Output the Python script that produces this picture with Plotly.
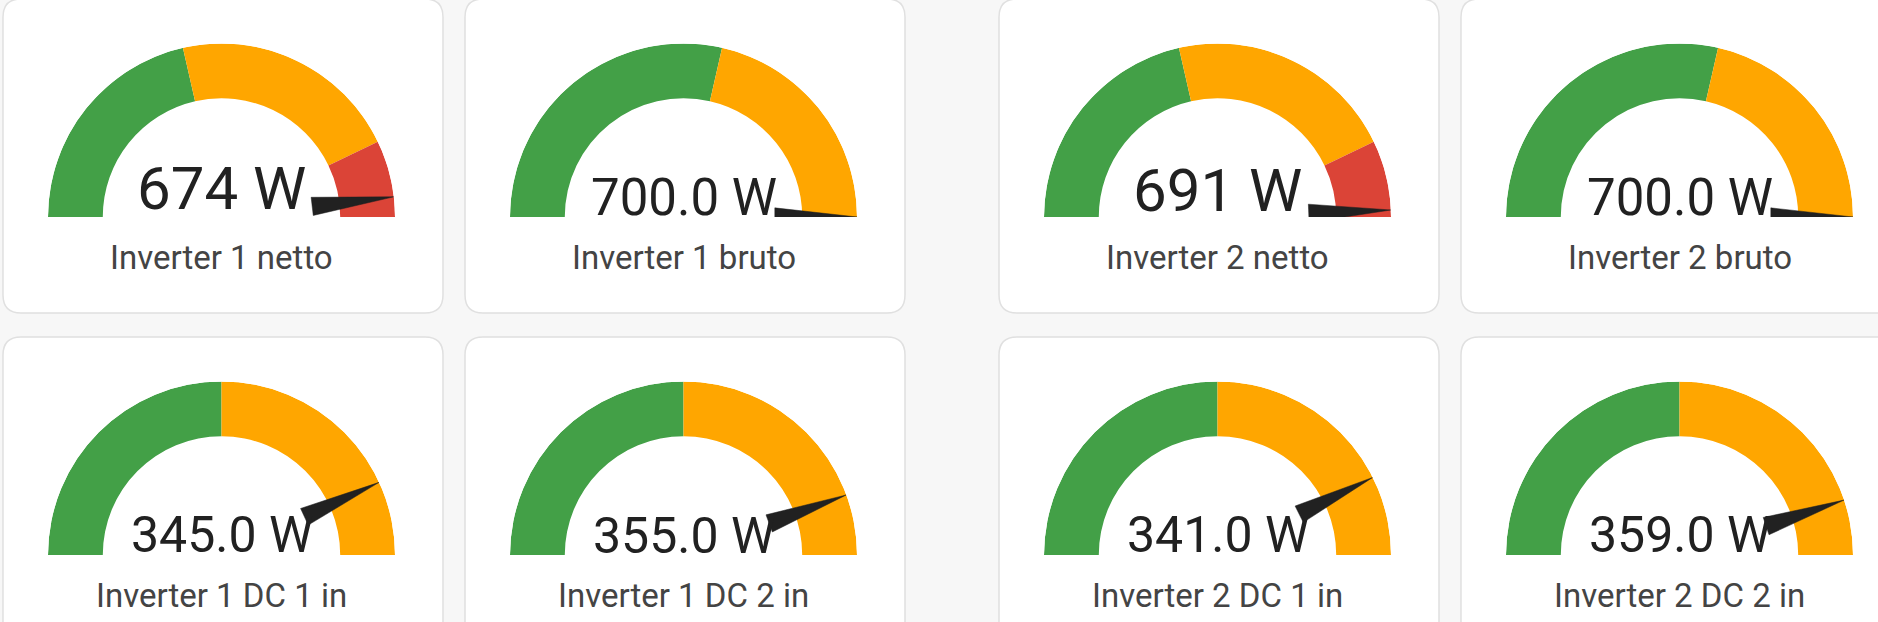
import plotly.graph_objects as go

W, H = 1878, 622

# ---------------- data ----------------
names = ["Inverter 1 netto", "Inverter 1 bruto", "Inverter 2 netto", "Inverter 2 bruto",
         "Inverter 1 DC 1 in", "Inverter 1 DC 2 in", "Inverter 2 DC 1 in", "Inverter 2 DC 2 in"]
values = [674, 700, 691, 700, 345, 355, 341, 359]
value_labels = ["674 W", "700.0 W", "691 W", "700.0 W",
                "345.0 W", "355.0 W", "341.0 W", "359.0 W"]
gauge_min = [0, 0, 0, 0, 0, 0, 0, 0]
gauge_max = [700, 700, 700, 700, 400, 400, 400, 400]
warning_from = [300, 400, 300, 400, 200, 200, 200, 200]
error_from = [600, 700, 600, 700, 400, 400, 400, 400]

# ---------------- style / layout ----------------
GREEN, ORANGE, RED = "#43a047", "#ffa600", "#db4437"
NEEDLE = "#212121"
card_left = [3, 465, 999, 1461, 3, 465, 999, 1461]
card_top = [-1, -1, -1, -1, 337, 337, 337, 337]
CARD_W, CARD_H, CARD_R = 440, 314, 18
GX, GY, R = 218.5, 218, 173.5        # gauge centre offset in card, outer radius (px)
INNER = 32.5 / 47.5                   # inner radius ratio of ring
val_dy = [190, 198.5, 191, 198.5, 198, 198.5, 197.5, 197.5]
val_fs = [60, 51, 60, 51, 50, 50, 50, 50]
NAME_DY, NAME_FS = 258, 33


def px(x):
    return x / W


def py(y):
    return 1 - y / H


def rrect(x0, y0, x1, y1, r):
    pts = [("M", x0 + r, y0), ("L", x1 - r, y0), ("Q", x1, y0, x1, y0 + r),
           ("L", x1, y1 - r), ("Q", x1, y1, x1 - r, y1), ("L", x0 + r, y1),
           ("Q", x0, y1, x0, y1 - r), ("L", x0, y0 + r), ("Q", x0, y0, x0 + r, y0)]
    s = ""
    for p in pts:
        cmd = p[0]
        coords = p[1:]
        parts = []
        for i in range(0, len(coords), 2):
            parts.append(f"{px(coords[i]):.6f},{py(coords[i+1]):.6f}")
        s += cmd + " " + " ".join(parts) + " "
    return s + "Z"


fig = go.Figure()
shapes = []
annotations = []
layout_polars = {}

for i in range(len(names)):
    cx = card_left[i] + GX
    cy = card_top[i] + GY
    shapes.append(dict(type="path", xref="paper", yref="paper",
                       path=rrect(card_left[i], card_top[i], card_left[i] + CARD_W,
                                  card_top[i] + CARD_H, CARD_R),
                       fillcolor="#ffffff", line=dict(color="#e0e0e0", width=1.5),
                       layer="below"))
    pid = "polar" if i == 0 else f"polar{i+1}"
    layout_polars[pid] = dict(
        domain=dict(x=[px(cx - R), px(cx + R)], y=[py(cy), py(cy - R)]),
        sector=[0, 180], hole=0, bgcolor="rgba(0,0,0,0)",
        radialaxis=dict(range=[0, 1], visible=False, showgrid=False),
        angularaxis=dict(visible=False, showgrid=False, rotation=180,
                         direction="clockwise"),
    )
    mn, mx = gauge_min[i], gauge_max[i]
    span = mx - mn
    bands = [(mn, warning_from[i], GREEN), (warning_from[i], error_from[i], ORANGE),
             (error_from[i], mx, RED)]
    th, wd, cols = [], [], []
    for a, b, c in bands:
        if b > a:
            th.append(((a + b) / 2 - mn) / span * 180)
            wd.append((b - a) / span * 180)
            cols.append(c)
    fig.add_trace(go.Barpolar(
        r=[1 - INNER] * len(th), base=[INNER] * len(th), theta=th, width=wd,
        marker=dict(color=cols, line=dict(width=0)), subplot=pid,
        hoverinfo="skip", showlegend=False))
    ang = (min(max(values[i], mn), mx) - mn) / span * 180
    nb = 25.125 / 47.5
    da = 5.71
    fig.add_trace(go.Scatterpolar(
        r=[nb, 1.0, nb, nb], theta=[ang - da, ang, ang + da, ang - da],
        mode="lines", fill="toself", fillcolor=NEEDLE,
        line=dict(color=NEEDLE, width=0.5), subplot=pid,
        hoverinfo="skip", showlegend=False))
    annotations.append(dict(x=px(cx), y=py(card_top[i] + val_dy[i]), xref="paper",
                            yref="paper", text=value_labels[i], showarrow=False,
                            xanchor="center", yanchor="middle",
                            font=dict(family="Roboto", size=val_fs[i], color="#212121")))
    annotations.append(dict(x=px(cx), y=py(card_top[i] + NAME_DY), xref="paper",
                            yref="paper", text=names[i], showarrow=False,
                            xanchor="center", yanchor="middle",
                            font=dict(family="Roboto", size=NAME_FS, color="#444444")))

fig.update_layout(
    width=W, height=H, margin=dict(l=0, r=0, t=0, b=0),
    paper_bgcolor="#f7f7f7", plot_bgcolor="rgba(0,0,0,0)",
    shapes=shapes, annotations=annotations, showlegend=False,
    **layout_polars,
)

fig.write_html("out.html", config={"displayModeBar": False},
               post_script="document.body.style.margin='0';document.body.style.overflow='hidden';")
